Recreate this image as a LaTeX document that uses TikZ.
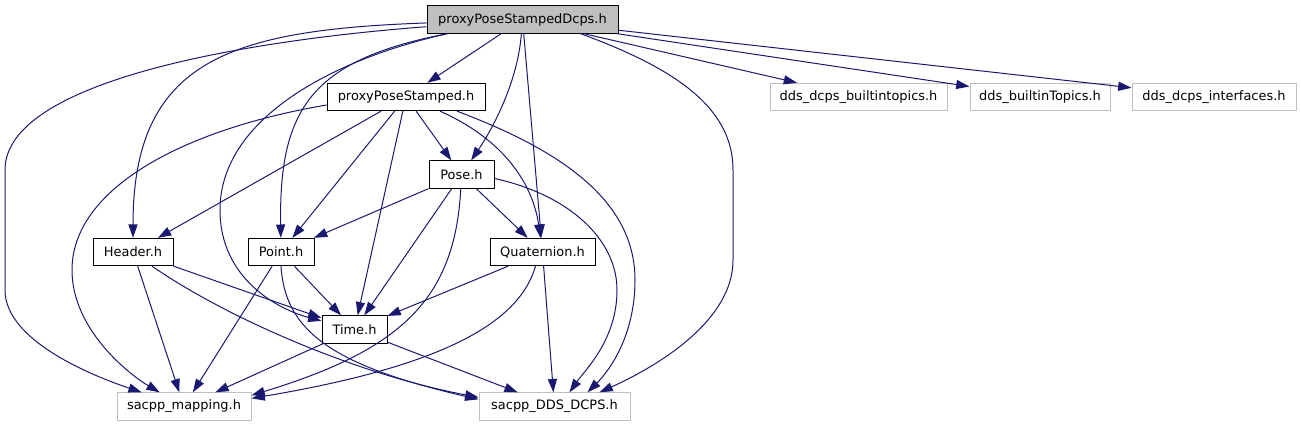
\documentclass[tikz,border=0pt]{standalone}
\usepackage{fontspec}
\setmainfont{DejaVu Sans}
\usetikzlibrary{arrows.meta,calc}
\definecolor{edgeblue}{HTML}{191970}
\definecolor{extgray}{HTML}{BFBFBF}

\begin{document}
\begin{tikzpicture}[x=0.75pt,y=-0.75pt,
    file/.style={draw=black,line width=0.75pt,minimum height=20.5pt,inner sep=0pt,
      font=\fontsize{9.7}{11}\selectfont},
    extfile/.style={file,draw=extgray},
    rootfile/.style={file,fill=extgray},
    dep/.style={edgeblue,line width=0.75pt,-{Triangle[length=10pt,width=6.8pt]}}]
    \useasboundingbox (0,0) rectangle (1301,427);

    % Files
    \node[rootfile,minimum width=143.25pt] (root)    at (522.5,19.5) {proxyPoseStampedDcps.h};
    \node[file,minimum width=118.5pt]      (pps)     at (406,97)     {proxyPoseStamped.h};
    \node[file,minimum width=48.75pt]      (pose)    at (461.5,174.5) {Pose.h};
    \node[file,minimum width=60pt]         (header)  at (133,252)    {Header.h};
    \node[file,minimum width=49.5pt]       (point)   at (281,252)    {Point.h};
    \node[file,minimum width=78.75pt]      (quat)    at (542.5,252)  {Quaternion.h};
    \node[file,minimum width=48.75pt]      (time)    at (354.5,329.5) {Time.h};

    % External headers (grey)
    \node[extfile,minimum width=100.5pt]   (mapping) at (184,406.5)  {sacpp\_mapping.h};
    \node[extfile,minimum width=113.25pt]  (dcps)    at (554.5,406.5) {sacpp\_DDS\_DCPS.h};
    \node[extfile,minimum width=132.75pt]  (bit)     at (858.5,97)   {dds\_dcps\_builtintopics.h};
    \node[extfile,minimum width=105pt]     (btopics) at (1040,97)    {dds\_builtinTopics.h};
    \node[extfile,minimum width=123pt]     (ifaces)  at (1214,97)    {dds\_dcps\_interfaces.h};

    % Includes of proxyPoseStampedDcps.h
    \draw[dep] (root) -- (pps);
    \draw[dep] (root) .. controls (517,90) and (485,140) .. (pose);
    \draw[dep] (root) -- (quat);
    \draw[dep] (root) .. controls (230,30) and (133,60) .. (header);
    \draw[dep] ($(root.south west)+(21,0)$) .. controls (310,60) and (279,110) .. (point);
    \draw[dep] ($(root.south west)+(21,0)$) .. controls (330,60) and (220,120) .. (220,210)
      .. controls (220,280) and (280,310) .. (time);
    \draw[dep] (root) .. controls (250,40) and (5,80) .. (5,170) -- (5,290)
      .. controls (5,340) and (90,375) .. (mapping);
    \draw[dep] ($(root.south east)+(-38,0)$) .. controls (680,70) and (733,110) .. (733,170)
      -- (733,260) .. controls (733,320) and (660,365) .. ($(dcps.north)+(45,0)$);
    \draw[dep] (root) -- (bit);
    \draw[dep] (root) -- (btopics);
    \draw[dep] (root) -- (ifaces);

    % Includes of proxyPoseStamped.h
    \draw[dep] (pps) -- (pose);
    \draw[dep] (pps) -- (header);
    \draw[dep] (pps) -- (point);
    \draw[dep] (pps) -- (time);
    \draw[dep] ($(pps.south)+(34,0)$) .. controls (505,140) and (533,185) .. (quat);
    \draw[dep] ($(pps.west)+(0,8)$) .. controls (180,130) and (72,190) .. (72,270)
      .. controls (72,330) and (130,375) .. (mapping);
    \draw[dep] ($(pps.south)+(51,0)$) .. controls (560,150) and (635,200) .. (635,280)
      .. controls (635,335) and (610,370) .. ($(dcps.north)+(33,0)$);

    % Includes of Pose.h
    \draw[dep] (pose) -- (point);
    \draw[dep] (pose) -- (quat);
    \draw[dep] (pose) -- (time);
    \draw[dep] (pose) .. controls (455,300) and (400,350) .. ($(mapping.north east)+(0,3)$);
    \draw[dep] ($(pose.east)+(0,4)$) .. controls (570,195) and (617,240) .. (617,290)
      .. controls (617,340) and (585,370) .. ($(dcps.north)+(15,0)$);

    % Includes of Quaternion.h
    \draw[dep] (quat) -- (time);
    \draw[dep] ($(quat.south)+(-7,0)$) .. controls (520,320) and (450,365) .. ($(mapping.north east)+(0,6)$);
    \draw[dep] (quat) -- (dcps);

    % Includes of Header.h
    \draw[dep] (header) -- (time);
    \draw[dep] (header) -- (mapping);
    \draw[dep] ($(header.south)+(19,0)$) .. controls (230,320) and (360,375) .. ($(dcps.north west)+(0,5)$);

    % Includes of Point.h
    \draw[dep] (point) -- (time);
    \draw[dep] (point) -- (mapping);
    \draw[dep] (point.south) .. controls (285,330) and (330,365) .. ($(dcps.north west)+(0,7)$);

    % Includes of Time.h
    \draw[dep] (time) -- (mapping);
    \draw[dep] (time) -- (dcps);

\end{tikzpicture}
\end{document}
